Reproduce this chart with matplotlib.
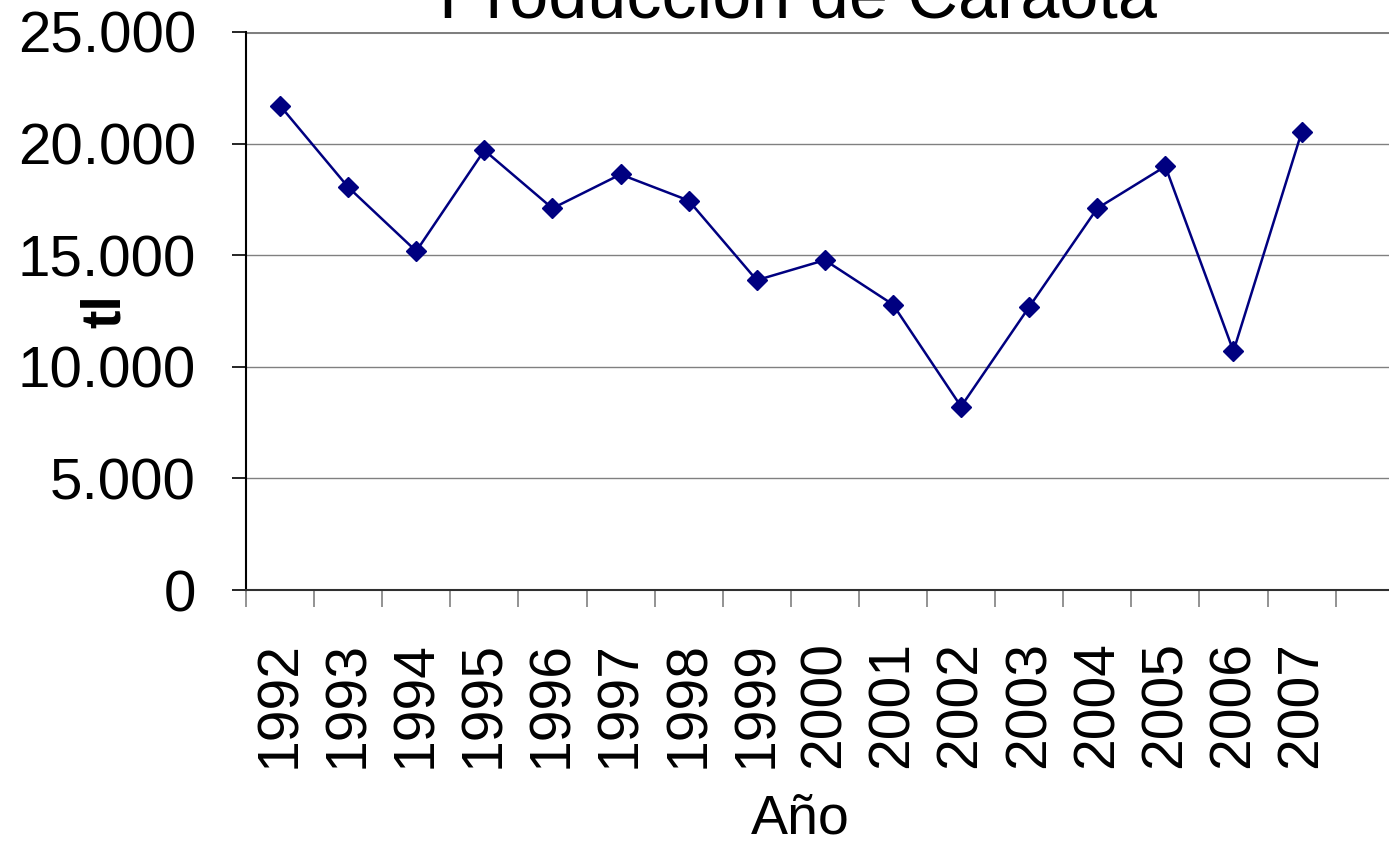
import matplotlib.pyplot as plt
from matplotlib.ticker import FuncFormatter, FixedLocator

plt.rcParams['font.family'] = ['Liberation Sans', 'DejaVu Sans']

# Datos
anios = ['1992', '1993', '1994', '1995', '1996', '1997', '1998', '1999',
         '2000', '2001', '2002', '2003', '2004', '2005', '2006', '2007']
produccion = [21700, 18050, 15180, 19700, 17100, 18620, 17450, 13880,
              14780, 12790, 8220, 12680, 17100, 18980, 10700, 20500]
valores_y = [0, 5000, 10000, 15000, 20000, 25000]
n_categorias = 17  # el eje tiene una categoría vacía al final

W, H = 1389, 841
fig = plt.figure(figsize=(W / 100, H / 100), dpi=100)
ax = fig.add_axes([246 / W, (H - 590) / H, (68.1 * n_categorias) / W, 558 / H])

x = list(range(len(anios)))
ax.plot(x, produccion, color='#000080', linewidth=1.8, marker='D',
        markersize=10, zorder=3, clip_on=False)

ax.set_xlim(-0.5, n_categorias - 0.5)
ax.set_ylim(0, 25000)

# Rejilla horizontal
for v in valores_y[1:]:
    ax.axhline(v, color='#808080', linewidth=2.2 if v == 25000 else 1.0, zorder=1)

ax.set_yticks(valores_y)
ax.yaxis.set_major_formatter(FuncFormatter(lambda v, p: f'{int(v):,}'.replace(',', '.')))
ax.tick_params(axis='y', length=10, width=1.2, pad=26, labelsize=42, direction='out')

# Etiquetas en el centro, marcas en los límites de categoría
ax.set_xticks(x)
ax.set_xticklabels(anios, rotation=90, fontsize=41)
ax.tick_params(axis='x', which='major', length=0, pad=37)
ax.xaxis.set_minor_locator(FixedLocator([i - 0.5 for i in range(n_categorias + 1)]))
ax.tick_params(axis='x', which='minor', length=12, width=1.2, color='#808080')

for s in ['top', 'right']:
    ax.spines[s].set_visible(False)
ax.spines['left'].set_linewidth(1.5)
ax.spines['bottom'].set_linewidth(1.5)
ax.spines['bottom'].set_color('#303030')

fig.text(798 / W, (H - 18) / H, 'Producción de Caraota', fontsize=50.5,
         ha='center', va='baseline')
fig.text(800 / W, (H - 833) / H, 'Año', fontsize=40, ha='center', va='baseline')
fig.text(106 / W, (H - 311) / H, 'tl', fontsize=40, fontweight='bold',
         rotation=90, ha='center', va='center')

fig.savefig('out.png', dpi=100)
